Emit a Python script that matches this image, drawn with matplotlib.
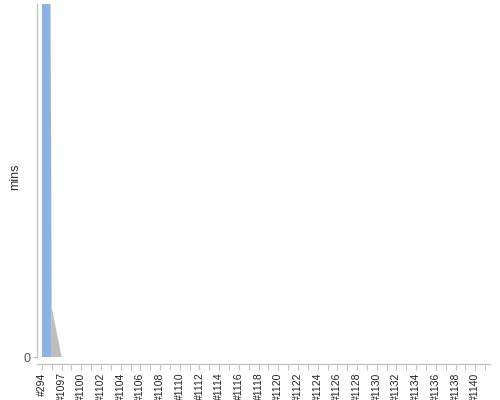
import matplotlib
matplotlib.use("Agg")
import matplotlib.pyplot as plt
import numpy as np

plt.rcParams['font.family'] = ['Liberation Sans', 'DejaVu Sans']

# Build categories (x axis)
builds = ["#294", "#1096", "#1097", "#1099", "#1100", "#1101", "#1102", "#1103",
          "#1104", "#1105", "#1106", "#1107", "#1108", "#1109", "#1110", "#1111",
          "#1112", "#1113", "#1114", "#1115", "#1116", "#1117", "#1118", "#1119",
          "#1120", "#1121", "#1122", "#1123", "#1124", "#1125", "#1126", "#1127",
          "#1128", "#1129", "#1130", "#1131", "#1132", "#1133", "#1134", "#1135",
          "#1136", "#1137", "#1138", "#1139", "#1140", "#1141"]

# Build durations in minutes (stacked series)
success_mins = [385, 0, 0, 0, 0, 0, 0, 0, 0, 0, 0, 0, 0, 0, 0, 0,
                0, 0, 0, 0, 0, 0, 0, 0, 0, 0, 0, 0, 0, 0, 0, 0,
                0, 0, 0, 0, 0, 0, 0, 0, 0, 0, 0, 0, 0, 0]
other_mins = [0, 7, 0, 0, 0, 0, 0, 0, 0, 0, 0, 0, 0, 0, 0, 0,
              0, 0, 0, 0, 0, 0, 0, 0, 0, 0, 0, 0, 0, 0, 0, 0,
              0, 0, 0, 0, 0, 0, 0, 0, 0, 0, 0, 0, 0, 0]

y_max = 50

fig = plt.figure(figsize=(5, 4), dpi=100)
W, H = 500, 400
left_px, right_px, top_px, bottom_px = 37, 490, 4, 357
ax = fig.add_axes([left_px / W, 1 - bottom_px / H,
                   (right_px - left_px) / W, (bottom_px - top_px) / H])

x = np.arange(len(builds))
ax.stackplot(x, success_mins, other_mins,
             colors=["#8EB3E0", "#BEBEBE"], linewidth=0, antialiased=True)

ax.set_xlim(-0.5, len(builds) - 0.5)
ax.set_ylim(0, y_max)

axis_col = "#C4C4C4"
for s in ("top", "right"):
    ax.spines[s].set_visible(False)
ax.spines["left"].set_color(axis_col)
ax.spines["left"].set_linewidth(1.0)
ax.spines["bottom"].set_color(axis_col)
ax.spines["bottom"].set_linewidth(1.0)
ax.spines["bottom"].set_position(("outward", 5))

ax.set_yticks([0])
ax.set_yticklabels(["0"])
ax.set_xticks(x)
ax.set_xticklabels([b if i % 2 == 0 else "" for i, b in enumerate(builds)],
                   rotation=90)

ax.tick_params(axis="x", length=4, width=0.8, color=axis_col, labelsize=7.5,
               labelcolor="#222222", pad=2)
ax.tick_params(axis="y", length=3, width=0.8, color=axis_col, labelsize=9,
               labelcolor="#555555", pad=2)

ax.set_ylabel("mins", fontsize=9, color="#333333")
ax.yaxis.set_label_coords(-0.034, 0.51)

fig.savefig("out.png", dpi=100)
